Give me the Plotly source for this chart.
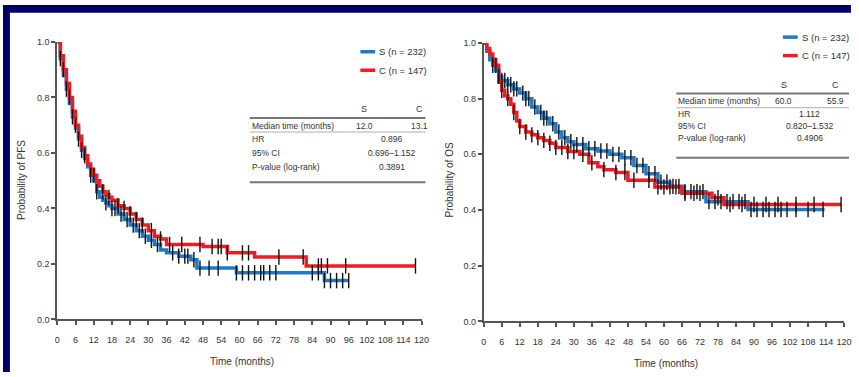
import numpy as np
import plotly.graph_objects as go

W, H = 859, 377

# ---------------- Data ----------------
# PFS (left panel)
pfs_s_t = [0, 1, 2, 3, 4, 5, 6, 7, 8, 9, 10, 11, 12, 13, 14, 15, 16, 17, 18, 20, 22, 24, 26, 28, 30, 32, 34, 36, 40, 44, 46, 59, 88, 96]
pfs_s_p = [1.0, 0.94, 0.88, 0.83, 0.78, 0.73, 0.69, 0.65, 0.61, 0.58, 0.55, 0.52, 0.50, 0.46, 0.44, 0.43, 0.42, 0.41, 0.40, 0.38, 0.36, 0.34, 0.32, 0.30, 0.285, 0.27, 0.25, 0.24, 0.228, 0.215, 0.185, 0.168, 0.14, 0.14]
pfs_c_t = [0, 1, 2, 3, 4, 5, 6, 7, 8, 9, 10, 11, 12, 13, 14, 15, 16, 17, 18, 20, 22, 24, 26, 28, 30, 32, 34, 36, 48, 56, 65, 82, 118]
pfs_c_p = [1.0, 0.95, 0.90, 0.85, 0.80, 0.75, 0.70, 0.66, 0.62, 0.59, 0.56, 0.54, 0.52, 0.50, 0.48, 0.46, 0.45, 0.44, 0.43, 0.41, 0.40, 0.38, 0.36, 0.34, 0.32, 0.30, 0.29, 0.27, 0.263, 0.24, 0.225, 0.193, 0.193]
pfs_s_cens = [1, 3, 5, 7, 8, 11, 13, 16, 18, 19, 21, 23, 25, 27, 29, 31, 33, 38, 40, 42, 43, 45, 47, 50, 53, 59, 61, 63, 65, 67, 68, 70, 72, 84, 86, 88, 90, 92, 94, 96]
pfs_c_cens = [2, 4, 6, 9, 12, 15, 17, 20, 22, 24, 26, 28, 31, 34, 37, 41, 47, 51, 53, 54, 56, 61, 63, 73, 81, 86, 87, 89, 95, 118]

# OS (right panel)
os_s_t = [0, 1, 2, 3, 4, 5, 6, 8, 10, 12, 14, 16, 18, 20, 22, 24, 26, 28, 30, 34, 38, 42, 46, 50, 54, 58, 62, 66, 74, 88, 113.5]
os_s_p = [1.0, 0.97, 0.94, 0.92, 0.90, 0.88, 0.865, 0.85, 0.835, 0.82, 0.80, 0.77, 0.75, 0.73, 0.71, 0.68, 0.66, 0.645, 0.635, 0.62, 0.612, 0.60, 0.588, 0.56, 0.53, 0.50, 0.485, 0.466, 0.43, 0.402, 0.402]
os_c_t = [0, 1, 2, 3, 4, 5, 6, 7, 8, 9, 10, 11, 12, 14, 16, 18, 20, 22, 24, 28, 32, 35, 38, 40, 44, 48, 57, 66, 76, 80, 119]
os_c_p = [1.0, 0.98, 0.96, 0.94, 0.92, 0.86, 0.83, 0.81, 0.80, 0.78, 0.75, 0.72, 0.70, 0.68, 0.67, 0.66, 0.65, 0.64, 0.625, 0.61, 0.60, 0.57, 0.555, 0.545, 0.535, 0.507, 0.483, 0.46, 0.444, 0.42, 0.42]
os_s_cens = [3, 5, 6, 7, 8, 9, 10, 11, 13, 14, 15, 17, 19, 20, 21, 23, 25, 27, 29, 31, 33, 35, 37, 39, 41, 43, 45, 47, 49, 51, 53, 55, 57, 59, 61, 63, 65, 67, 69, 71, 73, 75, 77, 79, 81, 83, 85, 87, 89, 91, 93, 95, 97, 99, 101, 104, 108, 113]
os_c_cens = [4, 6, 8, 10, 12, 14, 16, 18, 20, 22, 24, 26, 28, 30, 33, 36, 40, 44, 47, 50, 55, 58, 60, 62, 64, 67, 70, 72, 78, 82, 86, 90, 94, 98, 104, 110, 119]

x_ticks = list(range(0, 121, 6))
y_ticks = [0.0, 0.2, 0.4, 0.6, 0.8, 1.0]

legend_pfs = ["S (n = 232)", "C (n = 147)"]
legend_os = ["S (n = 232)", "C (n = 147)"]
table_pfs = [("Median time (months)", "12.0", "13.1"), ("HR", "0.896"), ("95% CI", "0.696\u20131.152"), ("P-value (log-rank)", "0.3891")]
table_os = [("Median time (months)", "60.0", "55.9"), ("HR", "1.112"), ("95% CI", "0.820\u20131.532"), ("P-value (log-rank)", "0.4906")]

BLUE = "#1f7ac6"
RED = "#ee1c24"
FONT = "Liberation Sans Narrow, Arial Narrow, Liberation Sans, Arial"
TXT = "#333333"


def step_at(ts, ps, t):
    idx = np.searchsorted(np.array(ts), t, side="right") - 1
    return float(np.array(ps)[max(idx, 0)])


def X(px):
    return px / W


def Y(py):
    return 1 - py / H


fig = go.Figure()

panels = [
    ("x", "y", pfs_s_t, pfs_s_p, pfs_c_t, pfs_c_p, pfs_s_cens, pfs_c_cens),
    ("x2", "y2", os_s_t, os_s_p, os_c_t, os_c_p, os_s_cens, os_c_cens),
]
for xa, ya, st, sp, ct, cp, sc, cc in panels:
    fig.add_trace(go.Scatter(x=st, y=sp, mode="lines", line=dict(color=BLUE, width=3.5, shape="hv"),
                             xaxis=xa, yaxis=ya, showlegend=False))
    fig.add_trace(go.Scatter(x=ct, y=cp, mode="lines", line=dict(color=RED, width=3.5, shape="hv"),
                             xaxis=xa, yaxis=ya, showlegend=False))
    for cens, ts, ps in ((sc, st, sp), (cc, ct, cp)):
        fig.add_trace(go.Scatter(x=cens, y=[step_at(ts, ps, t) for t in cens], mode="markers",
                                 marker=dict(symbol="line-ns", size=11, line=dict(color="#111111", width=1.4)),
                                 xaxis=xa, yaxis=ya, showlegend=False, cliponaxis=False))

axis_common = dict(showline=True, linecolor="#555555", linewidth=2, ticks="outside", ticklen=4,
                   tickwidth=1.5, tickcolor="#555555", showgrid=False, zeroline=False, tickangle=0,
                   tickfont=dict(family=FONT, size=9, color=TXT))

# pixel geometry
L_x0, L_x1, L_y0, L_y1 = 55, 424, 323, 38
R_x0, R_x1, R_y0, R_y1 = 487, 852, 325, 39

fig.update_layout(
    width=W, height=H, margin=dict(l=0, r=0, t=0, b=0),
    paper_bgcolor="white", plot_bgcolor="white",
    xaxis=dict(domain=[X(L_x0), X(L_x1)], range=[0, 120], tickvals=x_ticks, anchor="y",
               ticklabelstandoff=7, **axis_common),
    yaxis=dict(domain=[Y(L_y0), Y(L_y1)], range=[0, 1.0], tickvals=y_ticks, tickformat=".1f", anchor="x", **axis_common),
    xaxis2=dict(domain=[X(R_x0), X(R_x1)], range=[0, 120], tickvals=x_ticks, anchor="y2",
                ticklabelstandoff=7, **axis_common),
    yaxis2=dict(domain=[Y(R_y0), Y(R_y1)], range=[0, 1.0], tickvals=y_ticks, tickformat=".1f", anchor="x2", **axis_common),
)

shapes = []
annots = []


def text(px, py, s, size=9.5, xanchor="center", angle=0):
    annots.append(dict(x=X(px), y=Y(py), xref="paper", yref="paper", text=s, showarrow=False,
                       xanchor=xanchor, yanchor="middle", textangle=angle,
                       font=dict(family=FONT, size=size, color=TXT)))


def hline(x0, x1, py, width=1.0, color="#666666"):
    shapes.append(dict(type="line", xref="paper", yref="paper", x0=X(x0), x1=X(x1), y0=Y(py), y1=Y(py),
                       line=dict(color=color, width=width)))


# axis titles
text(18, 180, "Probability of PFS", size=10, angle=-90)
text(242, 366, "Time (months)", size=10)
text(452, 180, "Probability of OS", size=10, angle=-90)
text(672, 368, "Time (months)", size=10)

# legends
for (lx, ly, labels) in ((362, 48, legend_pfs), (790, 33, legend_os)):
    for i, (lab, col) in enumerate(zip(labels, [BLUE, RED])):
        yy = ly + i * 19
        hline(lx, lx + 15, yy, width=3.5, color=col)
        text(lx + 17, yy, lab, size=9.5, xanchor="left")


def table(rows, x0, x1, xs, xc, y_head, y_line, dy, y_bottom):
    text(xs, y_head, "S", size=9)
    text(xc, y_head, "C", size=9)
    hline(x0, x1, y_line, width=2, color="#777777")
    y = y_line + 8
    for i, r in enumerate(rows):
        text(x0, y, r[0], size=8.5, xanchor="left")
        if len(r) == 3:
            text(xs, y, r[1], size=8.5)
            text(xc, y, r[2], size=8.5)
            hline(x0, x1, y + 6.5, width=0.8, color="#999999")
        else:
            text((xs + xc) / 2, y, r[1], size=8.5)
        y += dy
    hline(x0, x1, y_bottom, width=2, color="#777777")


table(table_pfs, 250, 428, 366, 422, 107, 116, 14, 182)
table(table_os, 682, 857, 791, 843, 82, 91, 12.5, 157)

# navy slide frame (left and top)
shapes.append(dict(type="rect", xref="paper", yref="paper", x0=0, x1=X(7), y0=0, y1=1,
                   fillcolor="#000066", line=dict(width=0), layer="above"))
shapes.append(dict(type="rect", xref="paper", yref="paper", x0=0, x1=1, y0=Y(8), y1=1,
                   fillcolor="#000066", line=dict(width=0), layer="above"))

fig.update_layout(shapes=shapes, annotations=annots)
fig.write_html("out.html", config={"displayModeBar": False},
               post_script="document.body.style.margin='0';document.body.style.padding='0';")
